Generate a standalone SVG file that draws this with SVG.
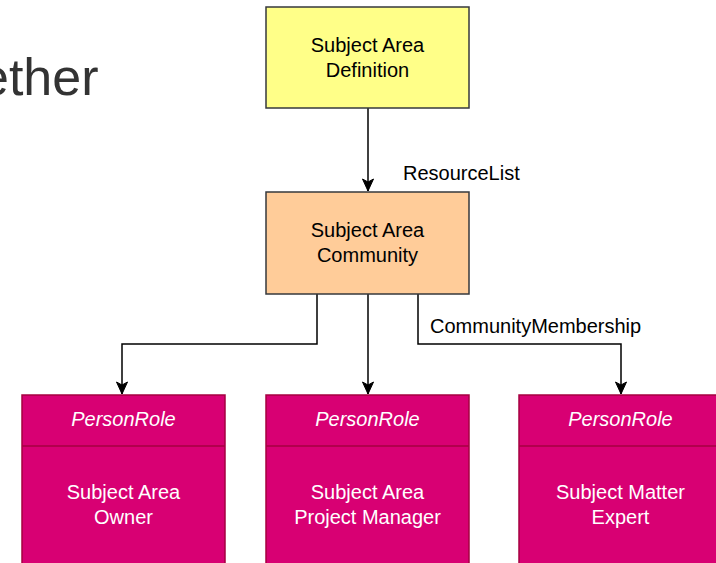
<svg xmlns="http://www.w3.org/2000/svg" width="716" height="563" viewBox="0 0 716 563">
  <style>
    .lbl { font-family: "Liberation Sans", Arial, Helvetica, sans-serif; font-size: 20px; fill: #000; }
    .ctr { text-anchor: middle; }
    .wht { fill: #ffffff; }
    .ital { font-style: italic; }
    .edge { fill: none; stroke: #000; stroke-width: 1.5; }
    .role { fill: #d80073; stroke: #a50040; stroke-width: 1.5; }
    .div { stroke: #a50040; stroke-width: 1.5; }
  </style>
  <defs>
    <marker id="arrow" markerUnits="userSpaceOnUse" markerWidth="14" markerHeight="14" viewBox="0 0 14 14" refX="13" refY="7" orient="auto">
      <path d="M1,1.5 L13,7 L1,12.5 L4,7 Z" fill="#000" stroke="#000" stroke-width="1"/>
    </marker>
  </defs>
  <rect width="716" height="563" fill="#ffffff"/>

  <text x="-20" y="95" font-family="'Liberation Sans', Arial, Helvetica, sans-serif" font-size="52" fill="#333333">ether</text>

  <g id="edges">
    <path class="edge" d="M368,108 L368,191" marker-end="url(#arrow)"/>
    <path class="edge" d="M317,294 L317,344 L122,344 L122,394" marker-end="url(#arrow)"/>
    <path class="edge" d="M368,294 L368,394" marker-end="url(#arrow)"/>
    <path class="edge" d="M418,294 L418,344 L621,344 L621,394" marker-end="url(#arrow)"/>
    <text class="lbl" x="403" y="180">ResourceList</text>
    <text class="lbl" x="430" y="333">CommunityMembership</text>
  </g>

  <g id="subject-area-definition">
    <rect x="266" y="7" width="203" height="101" fill="#ffff88" stroke="#36393d" stroke-width="1.5"/>
    <text class="lbl ctr" x="367.5" y="52">Subject Area</text>
    <text class="lbl ctr" x="367.5" y="77">Definition</text>
  </g>

  <g id="subject-area-community">
    <rect x="266" y="192" width="203" height="102" fill="#ffcc99" stroke="#36393d" stroke-width="1.5"/>
    <text class="lbl ctr" x="367.5" y="237">Subject Area</text>
    <text class="lbl ctr" x="367.5" y="262">Community</text>
  </g>

  <g id="subject-area-owner">
    <rect class="role" x="22" y="395" width="203" height="180"/>
    <line class="div" x1="22" y1="446" x2="225" y2="446"/>
    <text class="lbl ctr wht ital" x="123.5" y="426">PersonRole</text>
    <text class="lbl ctr wht" x="123.5" y="499">Subject Area</text>
    <text class="lbl ctr wht" x="123.5" y="524">Owner</text>
  </g>

  <g id="subject-area-project-manager">
    <rect class="role" x="266" y="395" width="203" height="180"/>
    <line class="div" x1="266" y1="446" x2="469" y2="446"/>
    <text class="lbl ctr wht ital" x="367.5" y="426">PersonRole</text>
    <text class="lbl ctr wht" x="367.5" y="499">Subject Area</text>
    <text class="lbl ctr wht" x="367.5" y="524">Project Manager</text>
  </g>

  <g id="subject-matter-expert">
    <rect class="role" x="519" y="395" width="203" height="180"/>
    <line class="div" x1="519" y1="446" x2="722" y2="446"/>
    <text class="lbl ctr wht ital" x="620.5" y="426">PersonRole</text>
    <text class="lbl ctr wht" x="620.5" y="499">Subject Matter</text>
    <text class="lbl ctr wht" x="620.5" y="524">Expert</text>
  </g>
</svg>
